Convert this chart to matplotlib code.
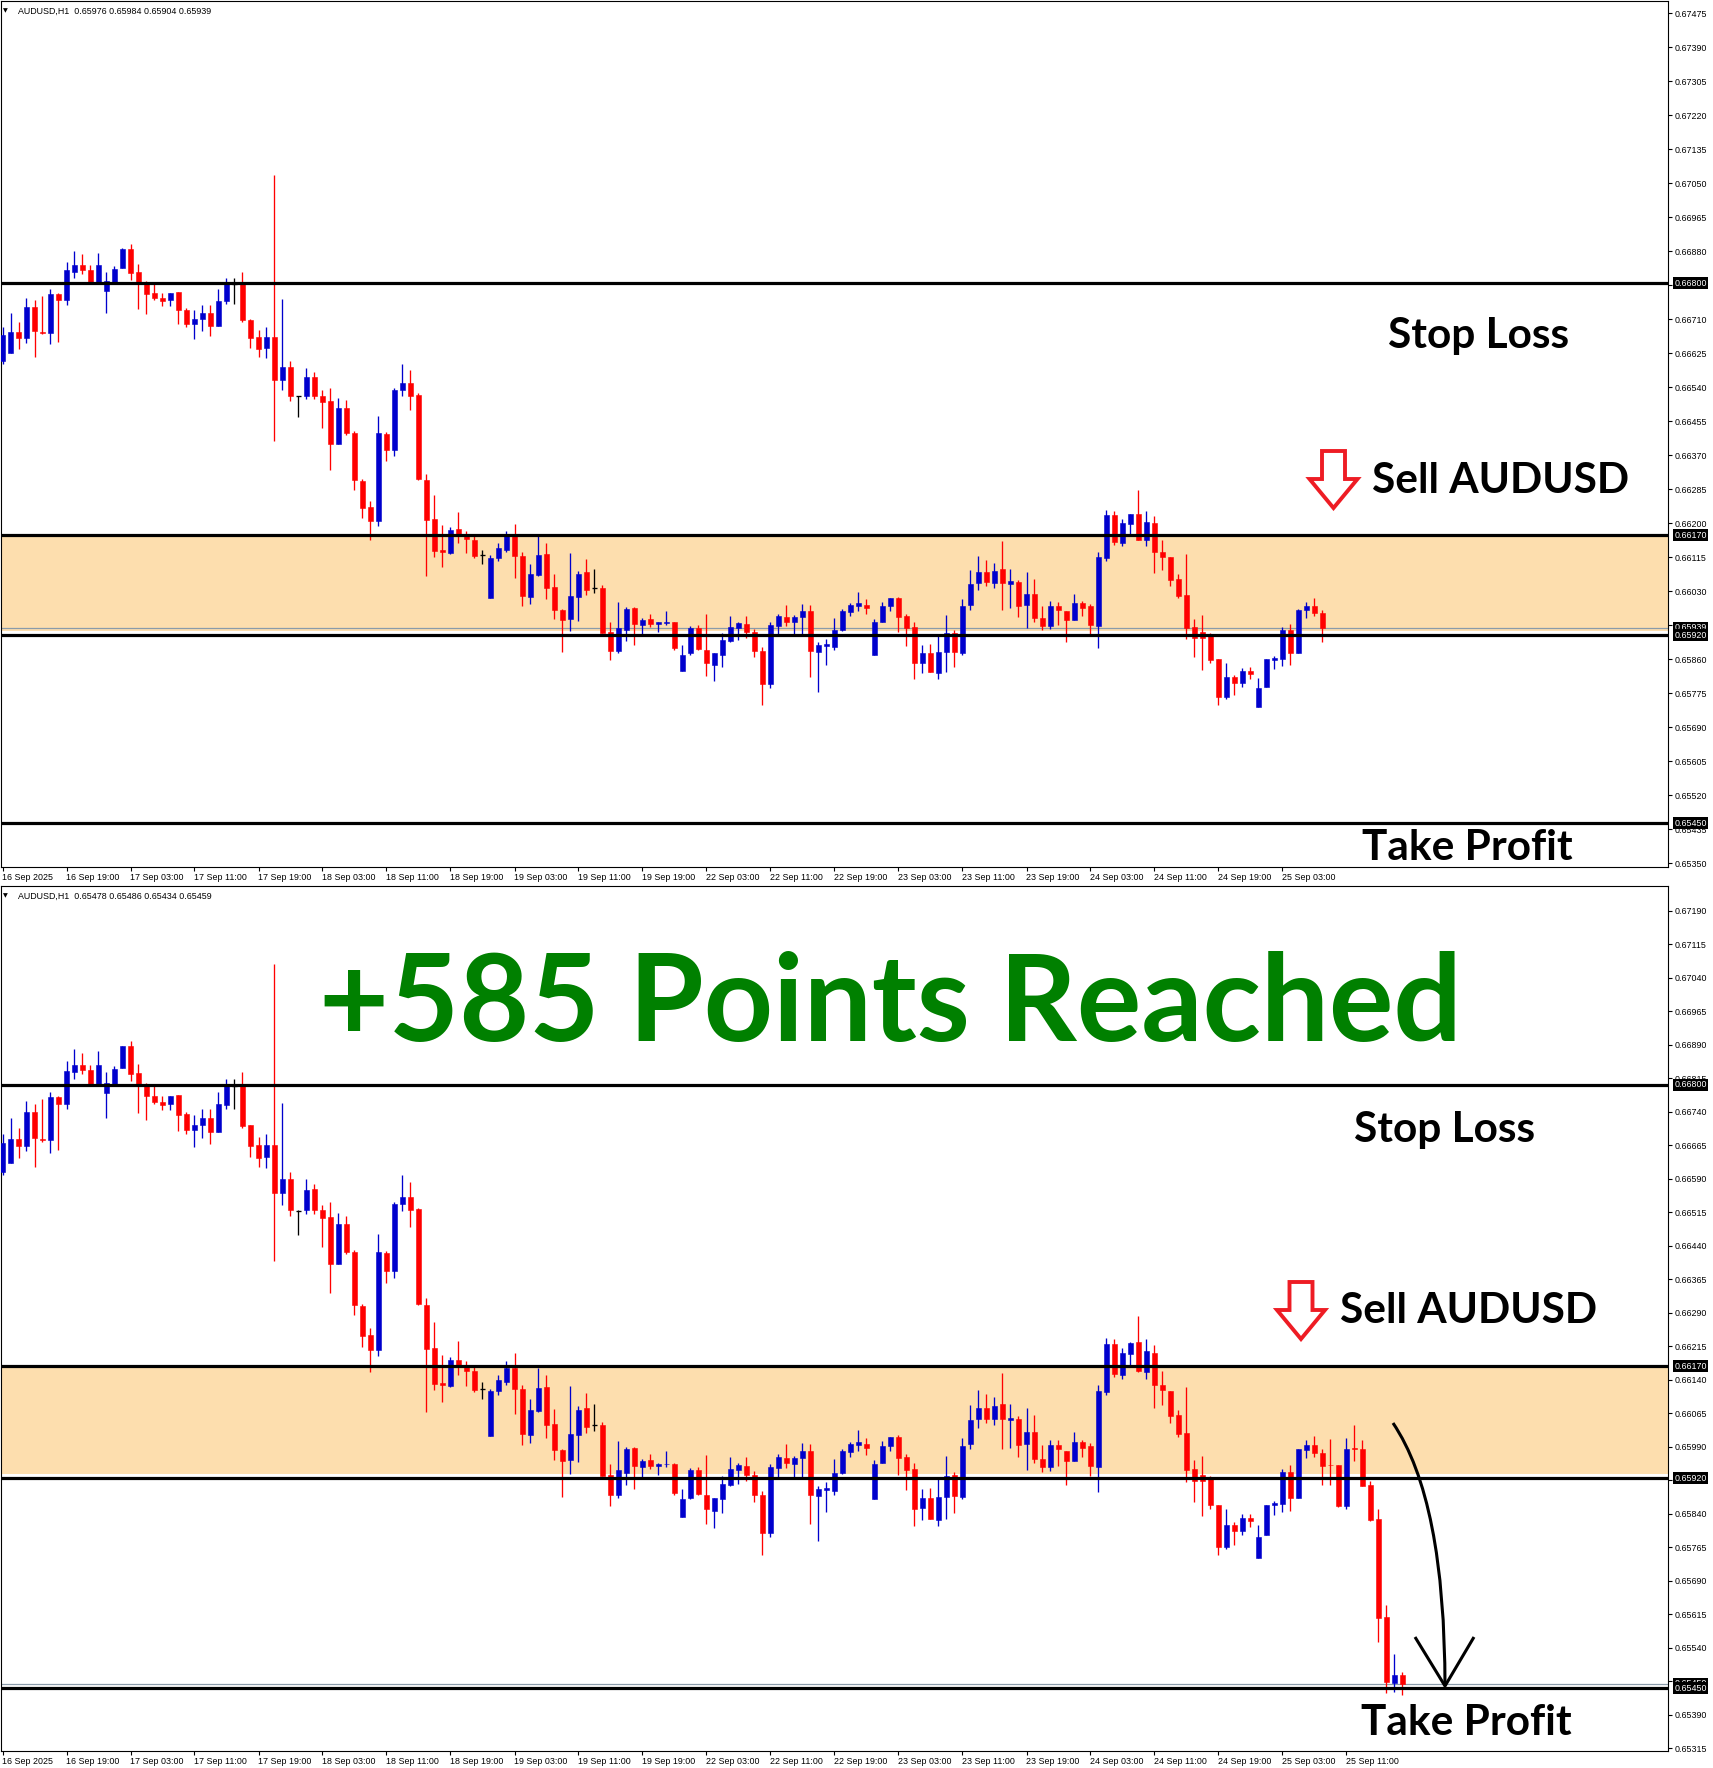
import numpy as np
import matplotlib
matplotlib.use('Agg')
import matplotlib.pyplot as plt
from matplotlib.patches import Polygon, PathPatch
from matplotlib.path import Path
from matplotlib.transforms import Affine2D

W, H, DPI = 1713, 1768, 100

# ---------------- data (AUDUSD H1, bar 0 = 16 Sep 11:00) ----------------
opens = [0.66605, 0.66625, 0.66679, 0.66663, 0.66740, 0.66679, 0.66676, 0.66772, 0.66757, 0.66828,
         0.66845, 0.66834, 0.66802, 0.66781, 0.66802, 0.66837, 0.66886, 0.66827, 0.66802, 0.66776,
         0.66762, 0.66757, 0.66778, 0.66734, 0.66698, 0.66710, 0.66725, 0.66694, 0.66755, 0.66798,
         0.66798, 0.66709, 0.66666, 0.66638, 0.66666, 0.66557, 0.66590, 0.66518, 0.66519, 0.66566,
         0.66519, 0.66505, 0.66399, 0.66489, 0.66425, 0.66306, 0.66241, 0.66206, 0.66423, 0.66383,
         0.66533, 0.66550, 0.66521, 0.66308, 0.66210, 0.66133, 0.66126, 0.66185, 0.66168, 0.66159,
         0.66120, 0.66013, 0.66114, 0.66134, 0.66167, 0.66119, 0.66016, 0.66070, 0.66123, 0.66041,
         0.65983, 0.65961, 0.66016, 0.66077, 0.66039, 0.66039, 0.65927, 0.65881, 0.65932, 0.65988,
         0.65945, 0.65961, 0.65947, 0.65951, 0.65952, 0.65832, 0.65876, 0.65939, 0.65883, 0.65847,
         0.65872, 0.65905, 0.65939, 0.65947, 0.65927, 0.65881, 0.65798, 0.65943, 0.65965, 0.65952,
         0.65965, 0.65981, 0.65879, 0.65894, 0.65890, 0.65932, 0.65979, 0.65994, 0.65996, 0.65872,
         0.65954, 0.65992, 0.66012, 0.65967, 0.65941, 0.65852, 0.65876, 0.65827, 0.65878, 0.65926,
         0.65877, 0.65995, 0.66051, 0.66077, 0.66051, 0.66085, 0.66049, 0.66053, 0.65995, 0.66023,
         0.65962, 0.65944, 0.65993, 0.65980, 0.65957, 0.66000, 0.65992, 0.65944, 0.66113, 0.66220,
         0.66151, 0.66198, 0.66224, 0.66157, 0.66200, 0.66128, 0.66115, 0.66060, 0.66021, 0.65941,
         0.65927, 0.65923, 0.65860, 0.65765, 0.65815, 0.65801, 0.65830, 0.65741, 0.65792, 0.65859,
         0.65861, 0.65934, 0.65875, 0.65982, 0.65994, 0.65976, 0.65950, 0.65948, 0.65857, 0.65987,
         0.65985, 0.65905, 0.65828, 0.65608, 0.65462, 0.65478]
highs = [0.66690, 0.66725, 0.66704, 0.66764, 0.66758, 0.66769, 0.66785, 0.66775, 0.66854, 0.66881,
         0.66872, 0.66845, 0.66876, 0.66828, 0.66843, 0.66888, 0.66899, 0.66847, 0.66805, 0.66797,
         0.66776, 0.66776, 0.66778, 0.66739, 0.66733, 0.66746, 0.66746, 0.66785, 0.66813, 0.66813,
         0.66829, 0.66711, 0.66684, 0.66691, 0.67071, 0.66760, 0.66606, 0.66519, 0.66589, 0.66577,
         0.66532, 0.66538, 0.66514, 0.66507, 0.66431, 0.66310, 0.66255, 0.66467, 0.66428, 0.66538,
         0.66599, 0.66583, 0.66525, 0.66324, 0.66270, 0.66195, 0.66190, 0.66227, 0.66181, 0.66174,
         0.66134, 0.66120, 0.66150, 0.66181, 0.66199, 0.66128, 0.66097, 0.66167, 0.66150, 0.66074,
         0.65985, 0.66125, 0.66081, 0.66110, 0.66085, 0.66045, 0.65952, 0.66003, 0.65990, 0.65990,
         0.65963, 0.65974, 0.65954, 0.65981, 0.65954, 0.65896, 0.65943, 0.65945, 0.65972, 0.65876,
         0.65925, 0.65967, 0.65954, 0.65967, 0.65936, 0.65890, 0.65952, 0.65974, 0.65996, 0.65970,
         0.65999, 0.65996, 0.65903, 0.65910, 0.65963, 0.65985, 0.66001, 0.66028, 0.66010, 0.65961,
         0.66003, 0.66012, 0.66016, 0.65974, 0.65954, 0.65896, 0.65898, 0.65918, 0.65970, 0.65933,
         0.66010, 0.66083, 0.66117, 0.66108, 0.66101, 0.66155, 0.66086, 0.66058, 0.66077, 0.66061,
         0.65993, 0.66006, 0.66004, 0.65980, 0.66023, 0.66005, 0.65998, 0.66128, 0.66233, 0.66231,
         0.66211, 0.66224, 0.66282, 0.66231, 0.66218, 0.66159, 0.66115, 0.66073, 0.66123, 0.65961,
         0.65970, 0.65925, 0.65860, 0.65850, 0.65821, 0.65839, 0.65840, 0.65814, 0.65860, 0.65869,
         0.65941, 0.65948, 0.65985, 0.66004, 0.66013, 0.65984, 0.66008, 0.65950, 0.66010, 0.66038,
         0.66006, 0.65914, 0.65850, 0.65636, 0.65526, 0.65486]
lows = [0.66598, 0.66625, 0.66636, 0.66651, 0.66615, 0.66672, 0.66647, 0.66654, 0.66746, 0.66814,
        0.66824, 0.66800, 0.66800, 0.66725, 0.66800, 0.66837, 0.66809, 0.66736, 0.66722, 0.66758,
        0.66743, 0.66743, 0.66697, 0.66690, 0.66661, 0.66680, 0.66668, 0.66694, 0.66747, 0.66747,
        0.66704, 0.66638, 0.66615, 0.66614, 0.66406, 0.66532, 0.66506, 0.66465, 0.66511, 0.66511,
        0.66438, 0.66333, 0.66399, 0.66421, 0.66284, 0.66214, 0.66157, 0.66193, 0.66356, 0.66367,
        0.66518, 0.66482, 0.66308, 0.66067, 0.66116, 0.66090, 0.66123, 0.66150, 0.66125, 0.66112,
        0.66097, 0.66013, 0.66105, 0.66128, 0.66064, 0.65994, 0.65999, 0.66068, 0.66010, 0.65961,
        0.65878, 0.65930, 0.65956, 0.66021, 0.66026, 0.65925, 0.65858, 0.65876, 0.65905, 0.65896,
        0.65923, 0.65941, 0.65927, 0.65945, 0.65883, 0.65832, 0.65872, 0.65883, 0.65818, 0.65807,
        0.65841, 0.65903, 0.65907, 0.65914, 0.65867, 0.65747, 0.65789, 0.65923, 0.65943, 0.65923,
        0.65923, 0.65816, 0.65778, 0.65845, 0.65883, 0.65930, 0.65967, 0.65981, 0.65972, 0.65872,
        0.65954, 0.65981, 0.65927, 0.65894, 0.65812, 0.65827, 0.65829, 0.65812, 0.65829, 0.65841,
        0.65872, 0.65984, 0.66033, 0.66044, 0.66038, 0.65984, 0.65988, 0.65966, 0.65937, 0.65953,
        0.65933, 0.65935, 0.65946, 0.65904, 0.65957, 0.65968, 0.65924, 0.65888, 0.66105, 0.66145,
        0.66142, 0.66173, 0.66157, 0.66142, 0.66076, 0.66084, 0.66042, 0.66012, 0.65910, 0.65866,
        0.65834, 0.65850, 0.65747, 0.65761, 0.65770, 0.65792, 0.65810, 0.65741, 0.65792, 0.65837,
        0.65843, 0.65846, 0.65875, 0.65964, 0.65967, 0.65904, 0.65904, 0.65855, 0.65850, 0.65957,
        0.65901, 0.65823, 0.65552, 0.65439, 0.65442, 0.65434]
closes = [0.66670, 0.66679, 0.66663, 0.66740, 0.66680, 0.66676, 0.66772, 0.66757, 0.66832, 0.66845,
          0.66833, 0.66802, 0.66845, 0.66805, 0.66835, 0.66886, 0.66825, 0.66799, 0.66774, 0.66762,
          0.66755, 0.66776, 0.66732, 0.66698, 0.66711, 0.66726, 0.66694, 0.66756, 0.66798, 0.66798,
          0.66707, 0.66663, 0.66636, 0.66666, 0.66557, 0.66590, 0.66519, 0.66518, 0.66565, 0.66519,
          0.66503, 0.66399, 0.66489, 0.66425, 0.66307, 0.66238, 0.66206, 0.66425, 0.66383, 0.66534,
          0.66550, 0.66519, 0.66310, 0.66209, 0.66130, 0.66129, 0.66183, 0.66173, 0.66160, 0.66117,
          0.66120, 0.66114, 0.66139, 0.66167, 0.66119, 0.66019, 0.66072, 0.66121, 0.66039, 0.65983,
          0.65959, 0.66019, 0.66072, 0.66034, 0.66039, 0.65925, 0.65881, 0.65939, 0.65985, 0.65947,
          0.65959, 0.65947, 0.65952, 0.65952, 0.65887, 0.65872, 0.65939, 0.65885, 0.65850, 0.65876,
          0.65907, 0.65941, 0.65950, 0.65927, 0.65881, 0.65798, 0.65945, 0.65967, 0.65954, 0.65965,
          0.65981, 0.65881, 0.65896, 0.65898, 0.65932, 0.65981, 0.65996, 0.66001, 0.65987, 0.65952,
          0.65992, 0.66012, 0.65965, 0.65939, 0.65850, 0.65876, 0.65829, 0.65878, 0.65925, 0.65879,
          0.65992, 0.66049, 0.66077, 0.66053, 0.66081, 0.66051, 0.66055, 0.65993, 0.66023, 0.65962,
          0.65944, 0.65994, 0.65984, 0.65959, 0.66000, 0.65988, 0.65946, 0.66115, 0.66220, 0.66153,
          0.66200, 0.66222, 0.66159, 0.66204, 0.66129, 0.66116, 0.66058, 0.66019, 0.65939, 0.65914,
          0.65913, 0.65859, 0.65765, 0.65815, 0.65801, 0.65830, 0.65823, 0.65788, 0.65860, 0.65863,
          0.65934, 0.65875, 0.65984, 0.65993, 0.65975, 0.65946, 0.65948, 0.65857, 0.65985, 0.65986,
          0.65901, 0.65826, 0.65606, 0.65464, 0.65480, 0.65459]

top_bar_count = 166
top_last_close = 0.65939
bottom_bar_count = 176

level_prices = [0.66800, 0.66170, 0.65920, 0.65450]
level_labels = ['0.66800', '0.66170', '0.65920', '0.65450']
zone_low, zone_high = 0.65930, 0.66170

top_header = "AUDUSD,H1  0.65976 0.65984 0.65904 0.65939"
bot_header = "AUDUSD,H1  0.65478 0.65486 0.65434 0.65459"
top_bid, top_bid_label = 0.65939, '0.65939'
bot_bid, bot_bid_label = 0.65459, '0.65459'

top_yticks = [0.67475, 0.67390, 0.67305, 0.67220, 0.67135, 0.67050, 0.66965, 0.66880, 0.66795,
              0.66710, 0.66625, 0.66540, 0.66455, 0.66370, 0.66285, 0.66200, 0.66115, 0.66030,
              0.65945, 0.65860, 0.65775, 0.65690, 0.65605, 0.65520, 0.65435, 0.65350]
bot_yticks = [0.67190, 0.67115, 0.67040, 0.66965, 0.66890, 0.66815, 0.66740, 0.66665, 0.66590,
              0.66515, 0.66440, 0.66365, 0.66290, 0.66215, 0.66140, 0.66065, 0.65990, 0.65915,
              0.65840, 0.65765, 0.65690, 0.65615, 0.65540, 0.65465, 0.65390, 0.65315]

time_labels = ["16 Sep 2025", "16 Sep 19:00", "17 Sep 03:00", "17 Sep 11:00", "17 Sep 19:00",
               "18 Sep 03:00", "18 Sep 11:00", "18 Sep 19:00", "19 Sep 03:00", "19 Sep 11:00",
               "19 Sep 19:00", "22 Sep 03:00", "22 Sep 11:00", "22 Sep 19:00", "23 Sep 03:00",
               "23 Sep 11:00", "23 Sep 19:00", "24 Sep 03:00", "24 Sep 11:00", "24 Sep 19:00",
               "25 Sep 03:00", "25 Sep 11:00"]
time_label_bars = [0, 8, 16, 24, 32, 40, 48, 56, 64, 72, 80, 88, 96, 104, 112, 120, 128, 136,
                   144, 152, 160, 168]
top_time_count = 21
bot_time_count = 22

# ---------------- styling ----------------
RED = '#FF0000'
BLUE = '#0000CD'
ZONE = '#FDDEAE'
BIDGRAY = '#8A9BAA'
ARROW_RED = '#EE1C24'
GREEN = '#008000'
SMALL_FONT = ['Liberation Sans', 'DejaVu Sans']
BIG_FONT = ['Lato', 'DejaVu Sans']
SMALL = 6.4
LABEL_SIZE = 30.5
HEADLINE_SIZE = 87

fig = plt.figure(figsize=(W / DPI, H / DPI), dpi=DPI)
fig.patch.set_facecolor('white')
pix = Affine2D().scale(1.0 / W, -1.0 / H).translate(0, 1) + fig.transFigure


def px_axes(l, t, r, b):
    return fig.add_axes([l / W, 1 - b / H, (r - l) / W, (b - t) / H])


def draw_panel(ax, n, last_close, ylim, yticks, bid, bid_label, tcount):
    o = np.array(opens[:n]); h = np.array(highs[:n])
    lo = np.array(lows[:n]); c = np.array(closes[:n])
    c[-1] = last_close
    x = np.arange(n)
    up = c > o
    dn = c < o
    dj = c == o
    cols = np.where(up, BLUE, np.where(dn, RED, 'black'))
    ax.axhspan(zone_low, zone_high, color=ZONE, lw=0, zorder=0)
    ax.axhline(bid, color=BIDGRAY, lw=0.9, zorder=1)
    ax.vlines(x, lo, h, colors=cols, lw=0.95, zorder=2)
    nb = ~dj
    ax.bar(x[nb], np.abs(c - o)[nb], bottom=np.minimum(o, c)[nb], width=0.62,
           color=cols[nb], edgecolor=cols[nb], lw=0.4, zorder=3)
    ax.hlines(o[dj], x[dj] - 0.35, x[dj] + 0.35, colors='black', lw=0.95, zorder=3)
    for lv in level_prices:
        ax.axhline(lv, color='black', lw=2.3, zorder=4)
    ax.set_xlim((1 - 2.5) / 8, (1668 - 2.5) / 8)
    ax.set_ylim(*ylim)
    ax.set_facecolor('white')
    for s in ax.spines.values():
        s.set_linewidth(0.8)
        s.set_color('black')
    ax.yaxis.tick_right()
    ax.set_yticks(yticks)
    ax.set_yticklabels([f"{v:.5f}" for v in yticks], fontsize=SMALL, family=SMALL_FONT)
    ax.tick_params(axis='y', direction='out', length=3, width=0.8, pad=2, colors='black')
    ax.set_xticks(time_label_bars[:tcount])
    ax.set_xticklabels(time_labels[:tcount], fontsize=SMALL, family=SMALL_FONT, ha='left')
    ax.tick_params(axis='x', direction='out', length=3, width=0.8, pad=1.5)
    # price boxes on the axis
    box = dict(boxstyle='square,pad=0.18', fc='black', ec='none')
    ax.annotate(bid_label, xy=(1, bid), xycoords=('axes fraction', 'data'), xytext=(4.6, 0),
                textcoords='offset points', va='center', ha='left', color='white',
                fontsize=SMALL, family=SMALL_FONT, bbox=box, annotation_clip=False, zorder=10)
    for lv, lab in zip(level_prices, level_labels):
        ax.annotate(lab, xy=(1, lv), xycoords=('axes fraction', 'data'), xytext=(4.6, 0),
                    textcoords='offset points', va='center', ha='left', color='white',
                    fontsize=SMALL, family=SMALL_FONT, bbox=box, annotation_clip=False, zorder=11)


ax_top = px_axes(1, 1, 1668, 867)
draw_panel(ax_top, top_bar_count, top_last_close, (0.65341, 0.67505), top_yticks,
           top_bid, top_bid_label, top_time_count)
ax_bot = px_axes(1, 886, 1668, 1751)
draw_panel(ax_bot, bottom_bar_count, closes[bottom_bar_count - 1], (0.65309, 0.67245), bot_yticks,
           bot_bid, bot_bid_label, bot_time_count)

# headers
for yy, txt in [(11, top_header), (896, bot_header)]:
    fig.text(3, yy, '\u25BC', transform=pix, fontsize=4.5, family=['DejaVu Sans'],
             va='center', ha='left')
    fig.text(18, yy, txt, transform=pix, fontsize=SMALL, family=SMALL_FONT, va='center', ha='left')


def big(x, y, s, size, color='black'):
    fig.text(x, y, s, transform=pix, fontsize=size, family=BIG_FONT, weight='bold',
             color=color, ha='left', va='baseline')


big(1388, 348, 'Stop Loss', LABEL_SIZE)
big(1372, 493, 'Sell AUDUSD', LABEL_SIZE)
big(1362, 860, 'Take Profit', LABEL_SIZE)
big(1354, 1142, 'Stop Loss', LABEL_SIZE)
big(1340, 1323, 'Sell AUDUSD', LABEL_SIZE)
big(1361, 1735, 'Take Profit', LABEL_SIZE)
big(319, 1041, '+585 Points Reached', HEADLINE_SIZE, GREEN)


def down_arrow(cx, top, ws=23, wh=48, sl=28, hl=29):
    pts = [(cx - ws / 2, top), (cx + ws / 2, top), (cx + ws / 2, top + sl), (cx + wh / 2, top + sl),
           (cx, top + sl + hl), (cx - wh / 2, top + sl), (cx - ws / 2, top + sl)]
    fig.add_artist(Polygon(pts, closed=True, transform=pix, fc='white', ec=ARROW_RED,
                           lw=2.8, joinstyle='miter'))


down_arrow(1333.5, 451)
down_arrow(1301, 1282)

# curved target arrow
curve = Path([(1393, 1423), (1445, 1500), (1445, 1686)], [Path.MOVETO, Path.CURVE3, Path.CURVE3])
fig.add_artist(PathPatch(curve, transform=pix, fill=False, ec='black', lw=2.2))
head = Path([(1415, 1637), (1445, 1686), (1474, 1637)], [Path.MOVETO, Path.LINETO, Path.LINETO])
fig.add_artist(PathPatch(head, transform=pix, fill=False, ec='black', lw=2.2, joinstyle='miter'))

fig.savefig('out.png', dpi=DPI, facecolor='white')
